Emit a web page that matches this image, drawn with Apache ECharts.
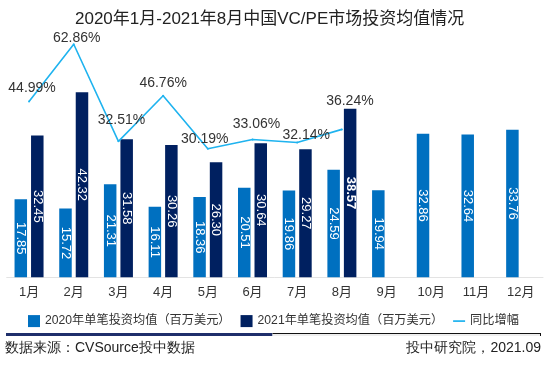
<!DOCTYPE html>
<html><head><meta charset="utf-8">
<script src="https://cdn.jsdelivr.net/npm/echarts@6/dist/echarts.min.js"></script>
<style>html,body{margin:0;padding:0;background:#fff}#c{width:550px;height:374px}</style>
</head><body><div id="c"></div>
<script>
// ---- data ----
const categories = ['1月','2月','3月','4月','5月','6月','7月','8月','9月','10月','11月','12月'];
const avg2020 = [17.85,15.72,21.31,16.11,18.36,20.51,19.86,24.59,19.94,32.86,32.64,33.76];
const avg2021 = [32.45,42.32,31.58,30.26,26.30,30.64,29.27,38.57];
const growth = [44.99,62.86,32.51,46.76,30.19,33.06,32.14,36.24];
const seriesNames = ['2020年单笔投资均值（百万美元）','2021年单笔投资均值（百万美元）','同比增幅'];
const titleText = '2020年1月-2021年8月中国VC/PE市场投资均值情况';
const sourceText = '数据来源：CVSource投中数据';
const creditText = '投中研究院，2021.09';

// ---- layout (label placement tweaks, not data) ----
const growthLabelOffsets = [[3,0],[3,7],[3,-8],[0,0],[-3,3],[4,-2],[9,6],[8,-15]];

const FONT = '"Liberation Sans", Arial, "Noto Sans CJK SC", sans-serif';
const chart = echarts.init(document.getElementById('c'), null, {renderer:'canvas'});

const barLabel = {
  show:true, position:'inside', rotate:-90, color:'#fff', fontSize:13, fontFamily:FONT,
  formatter: p => Number(p.value).toFixed(2)
};

chart.setOption({
  animation:false,
  textStyle:{fontFamily:FONT},
  title:{text:titleText, left:70, top:6,
    textStyle:{fontSize:17, fontWeight:'normal', color:'#222', fontFamily:FONT}},
  grid:{left:6.7, right:7, top:15, bottom:96.7, containLabel:false},
  legend:{
    left:23, top:310, width:545, itemWidth:12, itemHeight:12, itemGap:10,
    textStyle:{fontSize:12.2, color:'#333', fontFamily:FONT},
    data:[{name:seriesNames[0], icon:'rect'},{name:seriesNames[1], icon:'rect'},
          {name:seriesNames[2], icon:'path://M0,5 L14,5 L14,7 L0,7 Z', itemStyle:{color:'#1fb3ef'}}]
  },
  xAxis:{type:'category', data:categories, boundaryGap:true,
    axisLine:{show:true, lineStyle:{color:'#e3e3e3', width:1}},
    axisTick:{show:false},
    axisLabel:{color:'#333', fontSize:13, margin:9, fontFamily:FONT}},
  yAxis:[
    {type:'value', min:0, max:60, show:false, splitLine:{show:false}},
    {type:'value', min:-10, max:72, show:false, splitLine:{show:false}}
  ],
  series:[
    {name:seriesNames[0], type:'bar', data:avg2020, barWidth:12.5, barGap:'32%',
      itemStyle:{color:'#0070c0'}, label:barLabel},
    {name:seriesNames[1], type:'bar', data:avg2021.map((v,i)=> i===7 ? {value:v, label:{fontWeight:'bold'}} : v),
      barWidth:12.5, itemStyle:{color:'#002060'}, label:barLabel},
    {name:seriesNames[2], type:'line', yAxisIndex:1,
      data:growth.map((v,i)=>({value:v, label:{offset:growthLabelOffsets[i]}})),
      symbol:'circle', symbolSize:2, showSymbol:true,
      lineStyle:{color:'#1fb3ef', width:1.6}, itemStyle:{color:'#1fb3ef'},
      label:{show:true, position:'top', distance:5, color:'#333', fontSize:14, fontFamily:FONT,
        formatter:p=>Number(p.value).toFixed(2)+'%'},
      z:5}
  ],
  graphic:[
    {type:'rect', shape:{x:6, y:333, width:266.5, height:3}, style:{fill:'#1f2f6b'}},
    {type:'rect', shape:{x:272.5, y:333, width:268.5, height:3}, style:{fill:'#eeeeee'}},
    {type:'line', shape:{x1:272.5, y1:333.5, x2:541, y2:333.5}, style:{stroke:'#111', lineWidth:1}},
    {type:'line', shape:{x1:540.5, y1:333, x2:540.5, y2:336}, style:{stroke:'#111', lineWidth:1}},
    {type:'text', left:5, top:341, style:{text:sourceText, fontSize:14, fill:'#222', font:'14px '+FONT}},
    {type:'text', right:9, top:341, style:{text:creditText, fontSize:14, fill:'#222', font:'14px '+FONT}}
  ]
});
</script></body></html>
